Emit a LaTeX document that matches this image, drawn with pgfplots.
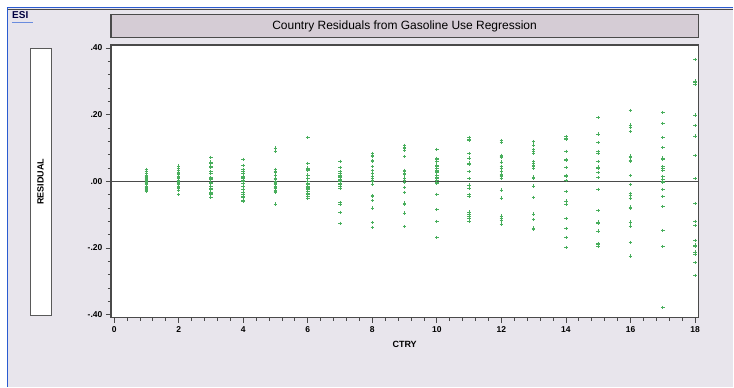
\documentclass[border=0pt]{standalone}
\usepackage{pgfplots}
\pgfplotsset{compat=1.18}
\usepackage{fontspec}
\setmainfont{Liberation Sans}
\definecolor{bgc}{HTML}{E8E5EC}
\definecolor{titlec}{HTML}{D5CCD5}
\definecolor{framec}{HTML}{4A4A4A}
\definecolor{ptc}{HTML}{48AE5C}
\definecolor{winblue}{HTML}{2A5BD0}
\begin{document}
\begin{tikzpicture}[x=1pt,y=1pt]
% window background
\fill[white] (0,0) rectangle (734,387);
\fill[bgc] (7,0) rectangle (734,379);
\draw[winblue,line width=1.5pt] (7,379.5) -- (734,379.5);
\draw[framec,line width=1pt] (8,377.5) -- (734,377.5);
\draw[winblue,line width=1.5pt] (7.5,0) -- (7.5,380);
% ESI
\node[anchor=north west,inner sep=0pt,text=black!75!blue,font=\fontsize{10}{11}\selectfont\bfseries] at (12,375.5) {ESI};
\draw[winblue!70,line width=1.2pt] (12,364.5) -- (33,364.5);
% RESIDUAL box
\draw[gray!70!black,fill=white,line width=0.8pt] (30,71) rectangle (51,339);
\node[rotate=90,font=\fontsize{9}{10}\selectfont\bfseries] at (40.5,205) {RESIDUAL};
\begin{axis}[
  at={(111pt,69pt)}, anchor=south west,
  scale only axis, width=588pt, height=273pt,
  xmin=-0.1, xmax=18.1, ymin=-0.409, ymax=0.409,
  axis x line*=bottom, axis y line*=left,
  axis background/.style={fill=white, draw=framec, line width=1.5pt},
  axis line style={framec,line width=1.5pt,-},
  xtick={0,2,...,18},
  ytick={-0.4,-0.2,0,0.2,0.4},
  yticklabels={-.40,-.20,.00,.20,.40},
  minor x tick num=4, minor y tick num=4,
  tick align=outside,
  major tick length=5pt, minor tick length=3pt,
  tick style={framec,line width=0.8pt},
  ticklabel style={font=\fontsize{8.5}{10}\selectfont\bfseries},
  /pgf/number format/assume math mode=true,
  xlabel={CTRY},
  xlabel style={font=\fontsize{9}{10}\selectfont\bfseries, at={(axis description cs:0.5,0)}, anchor=north, yshift=-20pt},
  title={Country Residuals from Gasoline Use Regression},
  title style={font=\fontsize{12}{14}\selectfont, at={(axis description cs:0.5,1)}, anchor=south, fill=titlec, draw=framec, line width=1.5pt, minimum width=588pt, minimum height=23pt, inner sep=0pt, yshift=0.75pt},
  clip=false,
]
\addplot[framec,line width=0.8pt] coordinates {(-0.1,0) (18.1,0)};
\addplot[only marks, mark=+, mark size=1.8pt, ptc, mark options={line width=0.9pt}] table {
x y
1 0.036
1 0.030
1 0.024
1 0.018
1 0.016
1 0.012
1 0.008
1 0.005
1 0.002
1 0.000
1 -0.003
1 -0.006
1 -0.010
1 -0.014
1 -0.018
1 -0.022
1 -0.025
1 -0.028
1 -0.030
2 0.046
2 0.040
2 0.033
2 0.028
2 0.024
2 0.020
2 0.016
2 0.012
2 0.008
2 0.004
2 0.001
2 -0.003
2 -0.006
2 -0.010
2 -0.014
2 -0.018
2 -0.021
2 -0.026
2 -0.040
3 0.072
3 0.058
3 0.054
3 0.046
3 0.043
3 0.030
3 0.023
3 0.012
3 0.009
3 0.006
3 -0.002
3 -0.006
3 -0.014
3 -0.020
3 -0.023
3 -0.032
3 -0.036
3 -0.040
3 -0.049
4 0.066
4 0.048
4 0.036
4 0.030
4 0.023
4 0.016
4 0.012
4 0.008
4 0.004
4 0.001
4 -0.006
4 -0.015
4 -0.024
4 -0.032
4 -0.040
4 -0.045
4 -0.049
4 -0.056
4 -0.060
5 0.100
5 0.090
5 0.036
5 0.030
5 0.026
5 0.018
5 0.010
5 0.005
5 0.001
5 -0.002
5 -0.006
5 -0.010
5 -0.014
5 -0.019
5 -0.022
5 -0.026
5 -0.030
5 -0.034
5 -0.068
6 0.131
6 0.054
6 0.040
6 0.036
6 0.033
6 0.019
6 0.010
6 0.001
6 -0.006
6 -0.010
6 -0.014
6 -0.018
6 -0.021
6 -0.025
6 -0.029
6 -0.036
6 -0.040
6 -0.044
6 -0.050
7 0.060
7 0.041
7 0.030
7 0.023
7 0.018
7 0.014
7 0.011
7 0.006
7 0.004
7 0.002
7 -0.001
7 -0.006
7 -0.010
7 -0.014
7 -0.020
7 -0.064
7 -0.068
7 -0.093
7 -0.126
8 0.084
8 0.079
8 0.075
8 0.063
8 0.060
8 0.044
8 0.033
8 0.023
8 0.015
8 0.008
8 0.004
8 -0.001
8 -0.009
8 -0.043
8 -0.046
8 -0.058
8 -0.080
8 -0.124
8 -0.138
9 0.108
9 0.103
9 0.100
9 0.094
9 0.074
9 0.033
9 0.029
9 0.025
9 0.020
9 0.010
9 0.002
9 -0.004
9 -0.018
9 -0.034
9 -0.065
9 -0.068
9 -0.095
9 -0.097
9 -0.136
10 0.096
10 0.069
10 0.065
10 0.060
10 0.049
10 0.044
10 0.040
10 0.034
10 0.030
10 0.026
10 0.018
10 0.012
10 0.008
10 0.004
10 -0.002
10 -0.005
10 -0.039
10 -0.085
10 -0.121
10 -0.169
11 0.132
11 0.127
11 0.123
11 0.083
11 0.070
11 0.055
11 0.052
11 0.050
11 0.029
11 0.008
11 -0.011
11 -0.022
11 -0.040
11 -0.046
11 -0.092
11 -0.099
11 -0.105
11 -0.112
11 -0.121
12 0.122
12 0.118
12 0.078
12 0.075
12 0.072
12 0.058
12 0.045
12 0.040
12 0.029
12 0.022
12 0.018
12 0.014
12 0.008
12 -0.026
12 -0.050
12 -0.104
12 -0.110
12 -0.118
12 -0.128
13 0.119
13 0.109
13 0.095
13 0.090
13 0.084
13 0.060
13 0.055
13 0.049
13 0.044
13 0.039
13 0.013
13 0.010
13 -0.014
13 -0.048
13 -0.098
13 -0.115
13 -0.140
13 -0.142
13 -0.144
14 0.134
14 0.129
14 0.125
14 0.090
14 0.066
14 0.064
14 0.062
14 0.042
14 0.018
14 0.016
14 0.014
14 0.002
14 -0.031
14 -0.059
14 -0.070
14 -0.112
14 -0.142
14 -0.168
14 -0.198
15 0.191
15 0.142
15 0.116
15 0.090
15 0.083
15 0.059
15 0.043
15 0.040
15 0.038
15 0.026
15 0.011
15 -0.024
15 -0.088
15 -0.122
15 -0.125
15 -0.149
15 -0.187
15 -0.190
15 -0.196
16 0.212
16 0.169
16 0.163
16 0.150
16 0.076
16 0.071
16 0.064
16 0.059
16 0.017
16 -0.010
16 -0.036
16 -0.042
16 -0.051
16 -0.077
16 -0.082
16 -0.122
16 -0.134
16 -0.184
16 -0.224
17 0.206
17 0.174
17 0.131
17 0.101
17 0.070
17 0.066
17 0.044
17 0.039
17 0.033
17 0.015
17 0.005
17 0.001
17 -0.004
17 -0.024
17 -0.045
17 -0.076
17 -0.148
17 -0.196
17 -0.379
18 0.365
18 0.301
18 0.296
18 0.290
18 0.198
18 0.168
18 0.136
18 0.078
18 0.008
18 -0.067
18 -0.120
18 -0.133
18 -0.177
18 -0.191
18 -0.196
18 -0.212
18 -0.219
18 -0.243
18 -0.282
};
\end{axis}
\end{tikzpicture}
\end{document}
